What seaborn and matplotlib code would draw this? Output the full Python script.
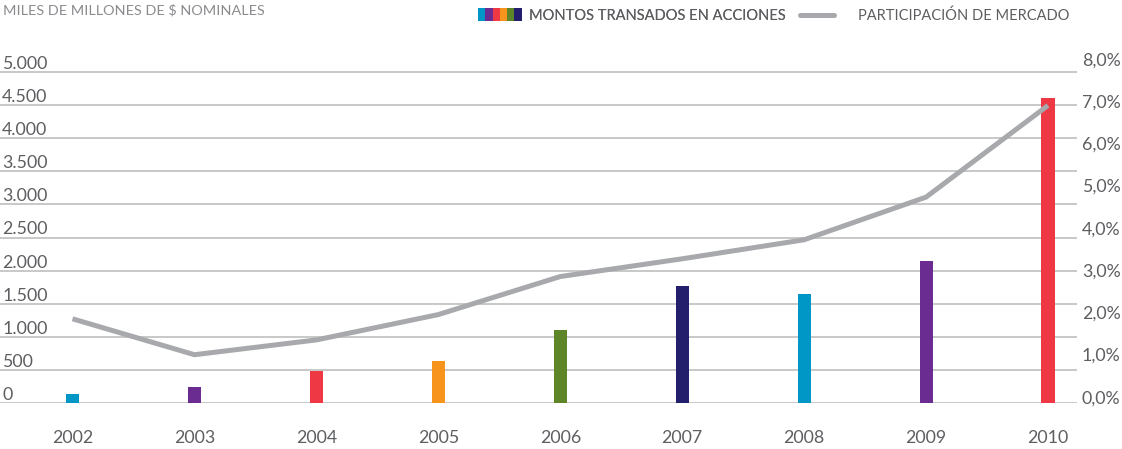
import numpy as np
import pandas as pd
import matplotlib
matplotlib.use("Agg")
import matplotlib.pyplot as plt
import seaborn as sns
from matplotlib.patches import Patch
from matplotlib.lines import Line2D
from matplotlib.legend_handler import HandlerTuple

# ---- data ----
years = ["2002", "2003", "2004", "2005", "2006", "2007", "2008", "2009", "2010"]
montos = [135, 240, 480, 640, 1105, 1775, 1650, 2150, 4600]          # miles de millones $
participacion = [2.0, 1.15, 1.5, 2.1, 3.0, 3.42, 3.87, 4.88, 7.05]   # %
bar_colors = ["#0096c6", "#6a2c90", "#ee3844", "#f7941d", "#5e8527",
              "#231f6c", "#0096c6", "#6a2c90", "#ee3844"]
legend_colors = ["#0096c6", "#6a2c90", "#ee3844", "#f7941d", "#5e8527", "#231f6c"]
left_ticks = [0, 500, 1000, 1500, 2000, 2500, 3000, 3500, 4000, 4500, 5000]
right_ticks = [0, 1, 2, 3, 4, 5, 6, 7, 8]

title_text = "MILES DE MILLONES DE $ NOMINALES"
legend_bar = "MONTOS TRANSADOS EN ACCIONES"
legend_line = "PARTICIPACIÓN DE MERCADO"

LINE_COLOR = "#a7a9ac"
TEXT_COLOR = "#5d5e61"
GRID_COLOR = "#c8c8c8"

df = pd.DataFrame({"year": years, "monto": montos, "share": participacion})

sns.set_style("white")
plt.rcParams["font.family"] = ["Lato", "DejaVu Sans"]

W, H = 1122, 449
fig = plt.figure(figsize=(W / 100, H / 100), dpi=100)
ax = fig.add_axes([0, 45.7 / H, 1077 / W, 338 / H])

sns.barplot(data=df, x="year", y="monto", hue="year", palette=bar_colors,
            width=0.107, legend=False, saturation=1, linewidth=0, ax=ax)

ax2 = ax.twinx()
sns.pointplot(data=df, x="year", y="share", color=LINE_COLOR, markers="",
              errorbar=None, linewidth=3.6, ax=ax2)
for ln in ax2.lines:
    ln.set_solid_joinstyle("miter")
    ln.set_solid_capstyle("butt")

xl = (-0.5946, 8.238)
ax.set_xlim(*xl)
ax2.set_xlim(*xl)
ax.set_ylim(0, 5000 * 338 / 331.6)
ax2.set_ylim(0, 8.0)

# left axis
ax.set_yticks(left_ticks)
ax.set_yticklabels([f"{v:,}".replace(",", ".") for v in left_ticks])
ax.yaxis.grid(True, color=GRID_COLOR, linewidth=1.4)
ax.xaxis.grid(False)
ax.set_axisbelow(True)
ax.tick_params(axis="y", length=0, pad=-1.5, labelsize=12.8, labelcolor=TEXT_COLOR)
for t in ax.get_yticklabels():
    t.set_ha("left")
    t.set_va("bottom")
ax.tick_params(axis="x", length=0, pad=19, labelsize=12.8, labelcolor=TEXT_COLOR)
ax.set_xlabel("")
ax.set_ylabel("")

# right axis
ax2.set_yticks(right_ticks)
ax2.set_yticklabels([f"{v:.1f}".replace(".", ",") + "%" for v in right_ticks])
ax2.tick_params(axis="y", length=0, pad=3.6, labelsize=12.8, labelcolor=TEXT_COLOR)
for t in ax2.get_yticklabels():
    t.set_va("baseline")
ax2.grid(False)
ax2.set_ylabel("")
ax2.set_xlabel("")

for a in (ax, ax2):
    for s in a.spines.values():
        s.set_visible(False)

# title
fig.text(3 / W, 1 - 10.5 / H, title_text, ha="left", va="center",
         fontsize=10.4, color="#8a8b8e")

# legends
patches = tuple(Patch(facecolor=c, edgecolor="none") for c in legend_colors)
leg1 = fig.legend(handles=[patches], labels=[legend_bar],
                  handler_map={tuple: HandlerTuple(ndivide=None, pad=0)},
                  loc="center left", bbox_to_anchor=(478 / W, 1 - 15.5 / H),
                  frameon=False, fontsize=10.5, handlelength=3.0, handleheight=0.92,
                  handletextpad=0.5, borderpad=0, borderaxespad=0, labelcolor=TEXT_COLOR)
fig.add_artist(leg1)
leg2 = fig.legend(handles=[Line2D([], [], color=LINE_COLOR, lw=3.6)], labels=[legend_line],
                  loc="center left", bbox_to_anchor=(800 / W, 1 - 15.5 / H),
                  frameon=False, fontsize=10.5, handlelength=2.3,
                  handletextpad=1.7, borderpad=0, borderaxespad=0, labelcolor=TEXT_COLOR)

fig.savefig("out.png", dpi=100)
